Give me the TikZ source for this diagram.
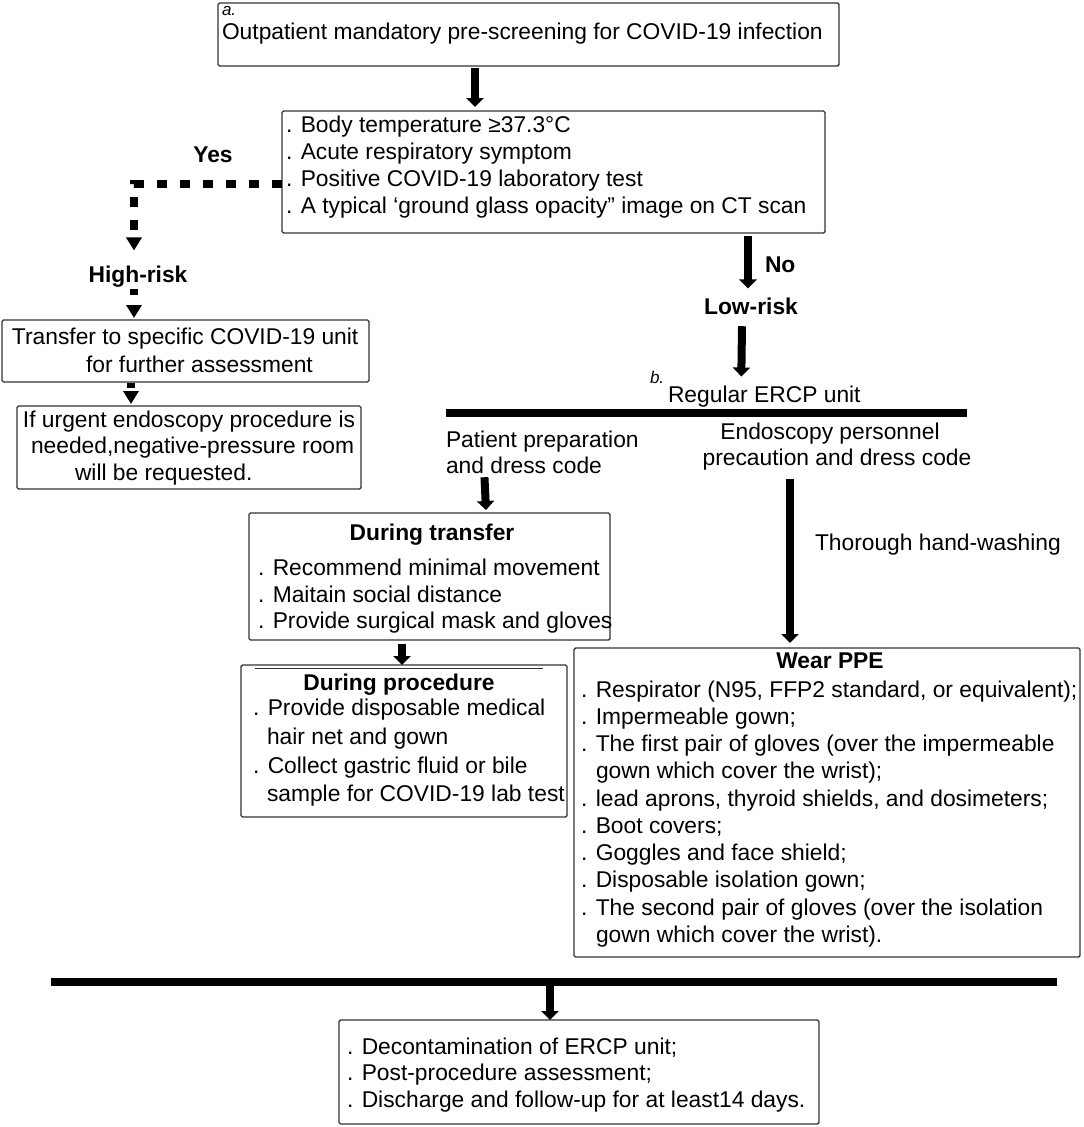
\documentclass[tikz,border=0pt]{standalone}
\usepackage{fontspec}
\setmainfont{Liberation Sans}
\usetikzlibrary{arrows.meta,calc}
\begin{document}
\begin{tikzpicture}[x=1pt,y=-1pt,
  frame/.style={draw=black!80, line width=1.4pt, rounded corners=1.5pt, anchor=north west, inner sep=0pt, outer sep=0pt},
  txt/.style={inner sep=0pt, outer sep=0pt, anchor=base west, font=\fontsize{22.8}{27}\selectfont},
  ctxt/.style={txt, anchor=base},
  btxt/.style={ctxt, font=\fontsize{22.8}{27}\selectfont\bfseries},
  itxt/.style={txt, font=\fontsize{17}{20}\selectfont\itshape},
  bigarrow/.style={line width=8pt, -{Triangle[width=17pt,length=9pt]}},
  dasharrow/.style={line width=8pt, dash pattern=on 10pt off 13pt, -{Triangle[width=15pt,length=13pt]}},
  shortdash/.style={line width=8pt, dash pattern=on 6pt off 10pt, -{Triangle[width=15pt,length=13pt]}},
  bar/.style={line width=8pt}
]
\useasboundingbox (0,0) rectangle (1084,1127);

% ---------- frames ----------
\node[frame, minimum width=621pt, minimum height=63pt] (top) at (218,3) {};
\node[frame, minimum width=543pt, minimum height=122pt] (b2) at (282,111) {};
\node[frame, minimum width=367pt, minimum height=62pt] (tr) at (2,320) {};
\node[frame, minimum width=344pt, minimum height=83pt] (ug) at (17,406) {};
\node[frame, minimum width=361pt, minimum height=127pt] (dt) at (249,513) {};
\node[frame, minimum width=326pt, minimum height=152pt] (dp) at (241,665) {};
\node[frame, minimum width=506pt, minimum height=309pt] (ppe) at (574,648) {};
\node[frame, minimum width=480pt, minimum height=104pt] (fin) at (339,1020) {};

% ---------- texts ----------
\node[itxt] (la) at (222,15) {a.};
\node[txt] (t1) at (222,39) {Outpatient mandatory pre-screening for COVID-19 infection};

\node[txt] (c1) at (286,132) {. Body temperature ≥37.3°C};
\node[txt] (c2) at (286,159) {. Acute respiratory symptom};
\node[txt] (c3) at (286,186) {. Positive COVID-19 laboratory test};
\node[txt] (c4) at (286,213) {. A typical ‘ground glass opacity” image on CT scan};

\node[btxt] (yes) at (213,162) {Yes};
\node[btxt] (hr) at (138,282) {High-risk};
\node[txt] (tr1) at (12,344) {Transfer to specific COVID-19 unit};
\node[txt] (tr2) at (86,372) {for further assessment};
\node[txt] (ug1) at (23,427) {If urgent endoscopy procedure is};
\node[txt] (ug2) at (31,453) {needed,negative-pressure room};
\node[txt] (ug3) at (75,480) {will be requested.};

\node[txt, font=\fontsize{22.8}{27}\selectfont\bfseries] (no) at (765,272) {No};
\node[btxt] (lr) at (751,314) {Low-risk};
\node[itxt] (lb) at (650,383) {b.};
\node[txt] (reg) at (668,402) {Regular ERCP unit};

\node[txt] (pp1) at (446,447) {Patient preparation};
\node[txt] (pp2) at (446,473) {and dress code};
\node[ctxt] (en1) at (830,439) {Endoscopy personnel};
\node[ctxt] (en2) at (837,465) {precaution and dress code};
\node[txt] (hw) at (815,550) {Thorough hand-washing};

\node[btxt] (dtt) at (432,540) {During transfer};
\node[txt] (dt1) at (258,575) {. Recommend minimal movement};
\node[txt] (dt2) at (258,602) {. Maitain social distance};
\node[txt] (dt3) at (258,628) {. Provide surgical mask and gloves};

\node[btxt] (dpt) at (399,690) {During procedure};
\node[txt] (dp1) at (253,715) {. Provide disposable medical};
\node[txt] (dp2) at (267,744) {hair net and gown};
\node[txt] (dp3) at (253,773) {. Collect gastric fluid or bile};
\node[txt] (dp4) at (267,801) {sample for COVID-19 lab test};

\node[btxt] (ppt) at (830,668) {Wear PPE};
\node[txt] (p1) at (581,697) {. Respirator (N95, FFP2 standard, or equivalent);};
\node[txt] (p2) at (581,724) {. Impermeable gown;};
\node[txt] (p3) at (581,751) {. The first pair of gloves (over the impermeable};
\node[txt] (p4) at (596,778) {gown which cover the wrist);};
\node[txt] (p5) at (581,806) {. lead aprons, thyroid shields, and dosimeters;};
\node[txt] (p6) at (581,833) {. Boot covers;};
\node[txt] (p7) at (581,860) {. Goggles and face shield;};
\node[txt] (p8) at (581,887) {. Disposable isolation gown;};
\node[txt] (p9) at (581,915) {. The second pair of gloves (over the isolation};
\node[txt] (p10) at (596,942) {gown which cover the wrist).};

\node[txt] (f1) at (347,1054) {. Decontamination of ERCP unit;};
\node[txt] (f2) at (347,1080) {. Post-procedure assessment;};
\node[txt] (f3) at (347,1107) {. Discharge and follow-up for at least14 days.};

% ---------- bars ----------
\coordinate (tbl) at (446,413);
\coordinate (tbr) at (967,413);
\coordinate (bbl) at (51,982);
\coordinate (bbr) at (1057,982);
\coordinate (bbm) at (550,985);
\draw[bar] (tbl) -- (tbr);
\draw[bar] (bbl) -- (bbr);

% inner line of procedure box
\draw[line width=1pt, black!80] ($(dp.north west)+(14,3)$) -- ($(dp.north east)+(-24,3)$);

% ---------- connectors ----------
\draw[bigarrow] ($(top.south)+(-53.5,2)$) -- ($(b2.north)+(-78.5,-4)$);
\draw[dasharrow] ($(b2.west)+(0,12)$) -| ($(hr.north)+(-4,-15)$);
\draw[shortdash] ($(hr.south)+(-4,2)$) -- ($(tr.north)+(-51.5,-2)$);
\draw[shortdash, dash pattern=on 5pt off 10pt] ($(tr.south)+(-54.5,1)$) -- ($(ug.north)+(-58,-2)$);
\draw[bigarrow] ($(b2.south)+(194.5,3)$) -- ($(lr.north)+(-3,-9)$);
\draw[bigarrow] ($(lr.south)+(-9,12)$) -- ($(reg.north)+(-23,-9)$);
\draw[bigarrow] ($(pp2.south)+(-39.5,4)$) -- ($(dt.north)+(56.5,-3)$);
\draw[bigarrow] ($(en2.south)+(-47,9)$) -- ($(ppe.north)+(-37,-5)$);
\draw[bigarrow] ($(dt.south)+(-27.5,4)$) -- ($(dp.north)+(-2,0)$);
\draw[bigarrow] (bbm) -- ($(fin.north)+(-29,0)$);
\end{tikzpicture}
\end{document}
